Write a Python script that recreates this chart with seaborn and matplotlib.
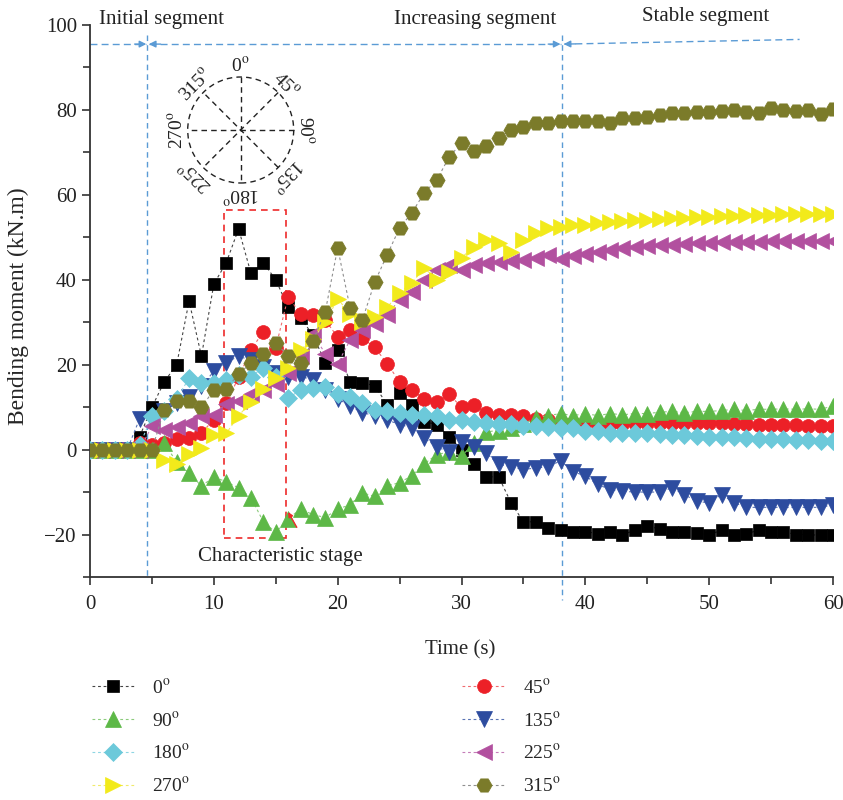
import matplotlib
matplotlib.use("Agg")
import matplotlib.pyplot as plt
import numpy as np
import pandas as pd
import seaborn as sns

# ---------------- data ----------------
time_s = list(range(61))
m_0 = [0, 0, 0, 0, 3, 10, 16, 20, 35, 22, 39, 44, 52, 41.5, 44, 40, 33.5, 31, 27, 20.5,
       23.5, 16, 15.8, 15, 10.6, 13.4, 10.6, 6.6, 5.9, 3, 0, -3.5, -6.4, -6.4, -12.5, -17, -17, -18.4, -19, -19.3,
       -19.3, -19.8, -19.5, -20, -19, -18.1, -18.6, -19.3, -19.5, -19.6, -20, -19, -20, -19.8, -19, -19.3, -19.3, -20, -20, -20.2,
       -20.2]
m_45 = [0, 0, 0, 0, 1.5, 1, 1.5, 2.4, 2.8, 4, 7, 11, 17, 23.5, 27.8, 24, 36, 32, 31.8, 30.5,
        26.5, 28.2, 26.2, 24.1, 20.2, 16, 14, 12, 11.3, 13, 10, 10.6, 8.7, 8.2, 8.2, 7.8, 7.3, 7, 6.5, 6.3,
        6.2, 6, 6, 6, 6.2, 6.3, 6.3, 6.3, 6.2, 6.3, 6.3, 6.2, 6, 6, 5.8, 5.8, 5.8, 5.7, 5.6, 5.6,
        5.5]
m_90 = [0, 0, 0, 0, 0, 0, 1.6, -3, -5.5, -8.6, -6.4, -7.6, -9, -11.3, -17, -19.5, -16.3, -14, -15.3, -16,
        -14, -13, -10.2, -11, -8.5, -7.8, -6.1, -3.3, -1.2, -0.5, -1.6, 1.5, 4.2, 4.5, 5, 6, 7.5, 8, 8.5, 8,
        8.5, 8, 8.5, 8.2, 8.5, 8.5, 8.8, 9, 8.7, 9, 9, 9.2, 9.5, 9.2, 9.5, 9.5, 9.6, 9.5, 9.6, 9.5,
        10.3]
m_135 = [0, 0, 0, 0, 7.2, 7, 9, 11, 12.5, 15, 18.4, 20.5, 22, 21, 19.5, 18, 17, 17.2, 16.5, 14,
         12, 10.3, 8.7, 8, 7, 5.9, 5.2, 2.8, 0.6, -0.5, 1.8, 0.7, -0.8, -3.5, -4, -4.7, -4.3, -4.1, -2.6, -5.2,
         -6.2, -8.2, -9.4, -9.8, -10, -10, -10, -9, -10.6, -12.2, -12.5, -10.6, -12.5, -13.6, -13.6, -13.6, -13.6, -13.6, -13.6, -13.6,
         -13]
m_180 = [0, 0, 0, 0, 1, 7.8, 9, 12, 16.8, 15.8, 15.8, 16.5, 17.5, 17.2, 19.3, 17, 12.2, 14, 14.6, 14.8,
         13, 12.5, 11, 9.4, 9, 8.6, 8.2, 8.2, 7.8, 7, 7, 6.6, 6.3, 6, 6, 5.6, 5.5, 5.3, 5, 5,
         4.5, 4.3, 4, 4, 4, 3.8, 3.6, 3.5, 3.4, 3.2, 3, 3, 3, 2.8, 2.6, 2.5, 2.4, 2.3, 2.2, 2,
         2]
m_225 = [0, 0, 0, 0, 0, 5.5, 4.7, 5.4, 6.3, 7.8, 8.2, 10.8, 11.5, 13, 14, 15.5, 18, 22, 27.2, 22.6,
         20.2, 25.8, 28.2, 29.6, 31.8, 35.3, 37.2, 40, 42.4, 43.5, 42.4, 43.5, 44, 44.2, 44.5, 44.7, 45.2, 45.9, 45, 45.5,
         46, 46.5, 47, 47.5, 47.8, 48, 48.2, 48.3, 48.5, 48.6, 48.7, 48.8, 48.9, 49, 49, 49.1, 49.1, 49.2, 49.2, 49.2,
         49.2]
m_270 = [0, 0, 0, 0, 0, 0, -2.4, -3.5, -1, 0.4, 3.5, 3.8, 8, 11.2, 14.3, 16.8, 19.3, 23.5, 26, 30,
         35.5, 32, 30, 31.3, 33.5, 37, 39.3, 42.8, 40, 41.9, 45.2, 47.8, 49.4, 48.7, 46.6, 49.4, 51, 52.2, 52.5, 52.8,
         53, 53.4, 53.6, 53.8, 54, 54.1, 54.3, 54.5, 54.6, 54.7, 54.8, 55, 55.1, 55.2, 55.3, 55.3, 55.4, 55.4, 55.5, 55.5,
         55.5]
m_315 = [0, 0, 0, 0, 0, 0, 9.4, 11.5, 11.5, 10, 14, 14.3, 17.8, 20.4, 22.5, 25.2, 22, 20.4, 25.6, 32.5,
         47.5, 33.4, 30.6, 39.5, 45.9, 52.2, 55.8, 60.5, 63.5, 68.9, 72.2, 70.4, 71.5, 73.4, 75.3, 76, 77, 77, 77.3, 77.3,
         77.5, 77.5, 76.9, 78, 78, 78.4, 78.7, 79.2, 79.2, 79.6, 79.6, 79.7, 80, 79.4, 79.2, 80.4, 80, 79.8, 80, 79.1,
         80.1]

angles = ["0", "45", "90", "135", "180", "225", "270", "315"]
series = [m_0, m_45, m_90, m_135, m_180, m_225, m_270, m_315]

# ---------------- style ----------------
sns.set_style("ticks")
plt.rcParams["font.family"] = ["Liberation Serif", "DejaVu Serif"]
plt.rcParams["mathtext.fontset"] = "stix"

marker_colors = ["#000000", "#EC2027", "#5DB847", "#2D4C9F", "#6CC9DA", "#B2509F", "#F2EA1B", "#7B7B2A"]
line_colors = ["#444444", "#F06A6E", "#8CCB7C", "#5A74B5", "#8ED6E3", "#C57DB8", "#F0EA6A", "#8F8F8F"]
markers = ["s", "o", "^", "v", "D", "<", ">", "H"]
msizes = [9, 10, 11, 11, 9, 11, 11, 11]

FS = 15
fig = plt.figure(figsize=(8.43, 8.0), dpi=100)
ax = fig.add_axes([90 / 843, 1 - 577 / 800, 743 / 843, 552 / 800])

df = pd.DataFrame({"t": time_s})
for a, vals in zip(angles, series):
    df[a] = vals

for i, a in enumerate(angles):
    sns.lineplot(data=df, x="t", y=a, ax=ax, color=line_colors[i],
                 linestyle=(0, (2.5, 2.5)), linewidth=0.8,
                 marker=markers[i], markersize=msizes[i],
                 markerfacecolor=marker_colors[i], markeredgecolor=marker_colors[i],
                 markeredgewidth=0.5, label=a + r"$^{\rm o}$", zorder=3 + i)

ax.set_xlim(0, 60)
ax.set_ylim(-30, 100)
ax.set_xticks(range(0, 61, 10))
ax.set_xticks(range(0, 61, 5), minor=True)
ax.set_yticks(range(-20, 101, 20))
ax.set_yticks(range(-30, 101, 10), minor=True)
for s in ["top", "right"]:
    ax.spines[s].set_visible(False)
for s in ["left", "bottom"]:
    ax.spines[s].set_linewidth(1.3)
    ax.spines[s].set_color("#333333")
ax.tick_params(axis="both", which="major", length=6, width=1.2, labelsize=FS, colors="#333333", labelcolor="#222222")
ax.tick_params(axis="x", which="major", pad=7)
ax.tick_params(axis="both", which="minor", length=5, width=1.2, colors="#333333")
ax.set_xlabel("Time (s)", fontsize=FS)
ax.set_ylabel("Bending moment (kN.m)", fontsize=17)
ax.xaxis.set_label_coords(0.498, -0.115)
ax.yaxis.set_label_coords(-0.082, 0.49)

# ---------------- annotations ----------------
blue = "#5B9BD5"
ax.plot([4.6, 4.6], [97.6, -30], ls=(0, (4, 3)), color=blue, lw=1.0, clip_on=False, zorder=2)
ax.plot([38.1, 38.1], [97.6, -35.3], ls=(0, (4, 3)), color=blue, lw=1.0, clip_on=False, zorder=2)
ax.plot([0, 4.5], [95.5, 95.5], ls=(0, (5, 3)), color=blue, lw=1.0, clip_on=False)
ax.plot([4.8, 38.0], [95.5, 95.5], ls=(0, (5, 3)), color=blue, lw=1.0, clip_on=False)
ax.plot([38.3, 57.3], [95.5, 96.6], ls=(0, (5, 3)), color=blue, lw=1.0, clip_on=False)
arrow_kw = dict(arrowstyle="-|>", color=blue, lw=1.0, mutation_scale=10, shrinkA=0, shrinkB=0)
ax.annotate("", xy=(4.55, 95.5), xytext=(3.6, 95.5), arrowprops=arrow_kw, annotation_clip=False)
ax.annotate("", xy=(4.75, 95.5), xytext=(5.7, 95.5), arrowprops=arrow_kw, annotation_clip=False)
ax.annotate("", xy=(38.0, 95.5), xytext=(37.0, 95.5), arrowprops=arrow_kw, annotation_clip=False)
ax.annotate("", xy=(38.25, 95.5), xytext=(39.2, 95.55), arrowprops=arrow_kw, annotation_clip=False)

ax.text(5.8, 101.2, "Initial segment", fontsize=FS, ha="center", va="center", color="#222222")
ax.text(31.1, 101.2, "Increasing segment", fontsize=FS, ha="center", va="center", color="#222222")
ax.text(49.7, 101.9, "Stable segment", fontsize=FS, ha="center", va="center", color="#222222")

rect = plt.Rectangle((10.8, -20.7), 5.0, 77.2, fill=False, ec="#EE2A2A", lw=1.2,
                     ls=(0, (4, 3)), zorder=2)
ax.add_patch(rect)
ax.text(15.4, -25.2, "Characteristic stage", fontsize=FS, ha="center", va="center", color="#222222")
ax.annotate("", xy=(16.0, -14.7), xytext=(16.7, -18.3),
            arrowprops=dict(arrowstyle="-|>", color="#EE2A2A", lw=1.0, mutation_scale=7,
                            shrinkA=0, shrinkB=0), zorder=20)

# ---------------- compass inset ----------------
cx, cy = 240.7, 130.0
half = 85
ax2 = fig.add_axes([(cx - half) / 843, 1 - (cy + half) / 800, 2 * half / 843, 2 * half / 800])
ax2.set_xlim(-half, half)
ax2.set_ylim(-half, half)
ax2.axis("off")
ax2.patch.set_alpha(0)
R = 53
circ = plt.Circle((0, 0), R, fill=False, ls=(0, (4, 3)), lw=1.0, color="#222222")
ax2.add_patch(circ)
for k in range(4):
    th = np.deg2rad(k * 45)
    ax2.plot([R * np.sin(th), -R * np.sin(th)], [R * np.cos(th), -R * np.cos(th)],
             ls=(0, (4, 3)), lw=1.0, color="#222222")
for a in angles:
    th = np.deg2rad(float(a))
    r_lab = 64
    ax2.text(r_lab * np.sin(th), r_lab * np.cos(th), a + r"$^{\rm o}$", fontsize=14,
             rotation=-float(a), rotation_mode="anchor", ha="center", va="center", color="#222222")

# ---------------- legend ----------------
handles, labels = ax.get_legend_handles_labels()
if ax.get_legend() is not None:
    ax.get_legend().remove()
order = [0, 2, 4, 6, 1, 3, 5, 7]
fig.legend([handles[i] for i in order], [labels[i] for i in order], ncol=2,
           loc="upper left", bbox_to_anchor=(92 / 843, 1 - 678 / 800), frameon=False,
           fontsize=14, handlelength=2.2, handletextpad=0.9, columnspacing=14.0,
           labelspacing=0.72, borderpad=0, borderaxespad=0)

fig.savefig("out.png", dpi=100)
